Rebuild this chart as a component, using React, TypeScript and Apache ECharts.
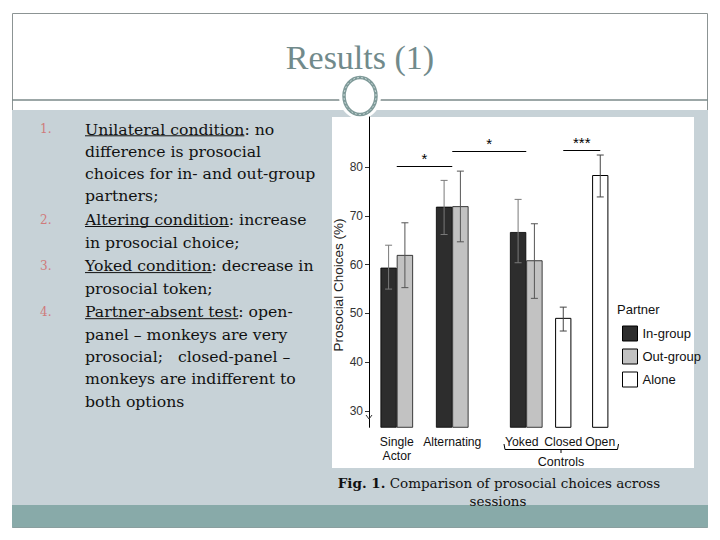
import React, { useEffect, useRef } from "react";
import * as echarts from "echarts";

// ---------- data ----------
const conditions = ["Single\nActor", "Alternating", "Yoked", "Closed", "Open"];
const inGroup = [59.4, 71.9, 66.7, null, null];
const inGroupErr = [[55.0, 64.0], [66.2, 77.3], [60.4, 73.4], null, null];
const outGroup = [62.0, 72.0, 60.9, null, null];
const outGroupErr = [[55.3, 68.6], [64.7, 79.2], [53.1, 68.4], null, null];
const alone = [null, null, null, 49.1, 78.4];
const aloneErr = [null, null, null, [46.4, 51.3], [73.9, 82.5]];
const yTicks = [30, 40, 50, 60, 70, 80];
const legendNames = ["In-group", "Out-group", "Alone"];
const significance = [
  { from: 0, to: 1, level: 80.3, label: "*" },
  { from: 1, to: 2, level: 83.3, label: "*" },
  { from: 3, to: 4, level: 83.5, label: "***" },
];

const slideTitle = "Results (1)";
const bullets = [
  { num: "1.", lead: "Unilateral condition", lines: ["Unilateral condition: no", "difference is prosocial", "choices for in- and out-group", "partners;"] },
  { num: "2.", lead: "Altering condition", lines: ["Altering condition: increase", "in prosocial choice;"] },
  { num: "3.", lead: "Yoked condition", lines: ["Yoked condition: decrease in", "prosocial token;"] },
  { num: "4.", lead: "Partner-absent test", lines: ["Partner-absent test: open-", "panel \u2013 monkeys are very", "prosocial;   closed-panel \u2013", "monkeys are indifferent to", "both options"] },
];
const captionBold = "Fig. 1.";
const captionRest = " Comparison of prosocial choices across";
const captionLine2 = "sessions";

// ---------- layout ----------
const slotOf = [1, 4, 8, 10, 12]; // category slot of each condition
const slotCount = 13;
const SANS = "'Liberation Sans', Arial, sans-serif";
const SERIF = "'DejaVu Serif', serif";
const LIST_SIZE = 15.7;

function toSlots(vals: (number | null)[]) {
  const arr: any[] = Array(slotCount).fill("-");
  vals.forEach((v, i) => {
    if (v != null) arr[slotOf[i]] = v;
  });
  return arr;
}

function errSeries(name: string, errs: (number[] | null)[], xAxisIndex: number, offset: number, color: string) {
  const data: number[][] = [];
  errs.forEach((e, i) => {
    if (e) data.push([slotOf[i], e[0], e[1]]);
  });
  return {
    type: "custom",
    name,
    xAxisIndex,
    yAxisIndex: 0,
    z: 6,
    silent: true,
    data,
    renderItem: (_p: any, api: any) => {
      const lo = api.coord([api.value(0), api.value(1)]);
      const hi = api.coord([api.value(0), api.value(2)]);
      const x = lo[0] + offset;
      const c = 3.5;
      const st = { stroke: color, lineWidth: 1 };
      return {
        type: "group",
        children: [
          { type: "line", shape: { x1: x, y1: hi[1], x2: x, y2: lo[1] }, style: st },
          { type: "line", shape: { x1: x - c, y1: hi[1], x2: x + c, y2: hi[1] }, style: st },
          { type: "line", shape: { x1: x - c, y1: lo[1], x2: x + c, y2: lo[1] }, style: st },
        ],
      };
    },
  };
}

function measure(text: string, font: string) {
  const cv = document.createElement("canvas");
  const ctx = cv.getContext("2d")!;
  ctx.font = font;
  return ctx.measureText(text).width;
}

export default function App() {
  const ref = useRef<HTMLDivElement>(null);
  useEffect(() => {
    document.body.style.margin = "0";
    const chart = echarts.init(ref.current!, null, { renderer: "svg" });
    const categories = Array(slotCount).fill("");
    conditions.forEach((c, i) => (categories[slotOf[i]] = c));

    const BAR_W = 16.3;

    // slide graphics
    const g: any[] = [];
    g.push({ type: "rect", z: -5, shape: { x: 12.5, y: 13.5, width: 695, height: 514 }, style: { fill: "#fff", stroke: "#8c9494", lineWidth: 1 } });
    g.push({ type: "rect", z: -4, shape: { x: 12, y: 110, width: 696, height: 396 }, style: { fill: "#c7d2d7" } });
    g.push({ type: "rect", z: -4, shape: { x: 12, y: 505, width: 696, height: 22.5 }, style: { fill: "#88aaa9" } });
    g.push({ type: "line", z: -4, shape: { x1: 12, y1: 100, x2: 708, y2: 100 }, style: { stroke: "#7b8a8a", lineWidth: 1.5 } });
    g.push({ type: "rect", z: -3, shape: { x: 332, y: 117, width: 362, height: 351 }, style: { fill: "#fff" } });
    // ornament
    g.push({ type: "ellipse", z: -2, shape: { cx: 360, cy: 96, rx: 21, ry: 23 }, style: { fill: "#fff" } });
    g.push({ type: "ellipse", z: -2, shape: { cx: 360, cy: 96, rx: 16, ry: 18.5 }, style: { fill: "#fff", stroke: "#7f9a99", lineWidth: 3.5 } });
    g.push({ type: "ellipse", z: -2, shape: { cx: 360, cy: 96, rx: 16, ry: 18.5 }, style: { fill: "none", stroke: "#c5d6d5", lineWidth: 1, lineDash: [2, 2] } });
    // title
    g.push({ type: "text", z: 10, x: 360, y: 57, style: { text: slideTitle, font: `34px 'Liberation Serif', serif`, fill: "#718a8b", align: "center", verticalAlign: "middle" } });

    // bullets
    const listFont = `${LIST_SIZE}px 'DejaVu Serif'`;
    let y = 129;
    const lineH = 22.3;
    bullets.forEach((b) => {
      g.push({ type: "text", z: 10, x: 40, y, style: { text: b.num, font: `12px ${SERIF}`, fill: "#cf7b7b", align: "left", verticalAlign: "middle" } });
      const w = measure(b.lead, listFont);
      g.push({ type: "line", z: 10, shape: { x1: 85, y1: y + 6.8, x2: 85 + w, y2: y + 6.8 }, style: { stroke: "#111", lineWidth: 1 } });
      b.lines.forEach((ln) => {
        g.push({ type: "text", z: 10, x: 85, y, style: { text: ln, font: `${LIST_SIZE}px ${SERIF}`, fill: "#111", align: "left", verticalAlign: "middle" } });
        y += lineH;
      });
      y += 1.5;
    });

    // caption
    g.push({
      type: "text", z: 10, x: 499, y: 483,
      style: {
        text: `{b|${captionBold}}${captionRest}`,
        font: `13.5px ${SERIF}`, fill: "#111", align: "center", verticalAlign: "middle",
        rich: { b: { fontWeight: "bold", fontFamily: "'DejaVu Serif', serif", fontSize: 13.5, fill: "#111" } },
      },
    });
    g.push({ type: "text", z: 10, x: 498, y: 501, style: { text: captionLine2, font: `13.5px ${SERIF}`, fill: "#111", align: "center", verticalAlign: "middle" } });

    // chart decorations
    g.push({ type: "text", z: 10, x: 338, y: 285, rotation: Math.PI / 2, style: { text: "Prosocial Choices (%)", font: `13.5px ${SANS}`, fill: "#222", align: "center", verticalAlign: "middle" } });
    g.push({ type: "text", z: 10, x: 617, y: 309, style: { text: "Partner", font: `13px ${SANS}`, fill: "#111", align: "left", verticalAlign: "middle" } });
    // Controls bracket
    const bs = { stroke: "#000", lineWidth: 1, fill: "none" };
    g.push({ type: "polyline", z: 10, shape: { points: [[504, 444], [505, 449.5], [617.5, 449.5], [618.5, 444]] }, style: bs });
    g.push({ type: "line", z: 10, shape: { x1: 561, y1: 449.5, x2: 561, y2: 453 }, style: bs });
    g.push({ type: "text", z: 10, x: 561, y: 462, style: { text: "Controls", font: `12.5px ${SANS}`, fill: "#111", align: "center", verticalAlign: "middle" } });
    // axis break mark
    g.push({ type: "polyline", z: 10, shape: { points: [[366, 415], [369, 419], [372, 415]] }, style: { stroke: "#333", lineWidth: 1, fill: "none" } });

    const option: any = {
      animation: false,
      backgroundColor: "#fff",
      textStyle: { fontFamily: SANS },
      grid: { left: 369, top: 117, width: 18.5 * slotCount, height: 310.3 },
      xAxis: [
        {
          type: "category",
          data: categories,
          axisLine: { show: false },
          axisTick: { show: false },
          axisLabel: {
            interval: 0, fontSize: 12.2, color: "#111", margin: 8, lineHeight: 14, fontFamily: SANS,
            formatter: (v: string) => (v === "Yoked" ? `{sh|${v}}` : v),
            rich: { sh: { fontSize: 12.2, color: "#111", fontFamily: SANS, padding: [0, 9, 0, 0] } },
          },
        },
        { type: "category", data: categories, show: false },
      ],
      yAxis: {
        type: "value",
        min: 26.65,
        max: 90.3,
        splitLine: { show: false },
        axisLine: { show: true, lineStyle: { color: "#000", width: 1 } },
        axisTick: { show: true, length: 4, customValues: yTicks, lineStyle: { color: "#333" } },
        axisLabel: { customValues: yTicks, fontSize: 12, color: "#333", margin: 6, fontFamily: SANS },
      },
      legend: {
        data: legendNames,
        orient: "vertical",
        left: 617,
        top: 320.5,
        itemWidth: 15,
        itemHeight: 15,
        itemGap: 7,
        icon: "rect",
        selectedMode: false,
        itemStyle: { borderColor: "#000", borderWidth: 1 },
        textStyle: { fontSize: 13, color: "#111", fontFamily: SANS },
      },
      series: [
        {
          type: "bar", name: legendNames[0], xAxisIndex: 0, data: toSlots(inGroup), barWidth: BAR_W, barGap: "0%",
          itemStyle: { color: "#2d2d2d", borderColor: "#000", borderWidth: 0.8 },
        },
        {
          type: "bar", name: legendNames[1], xAxisIndex: 0, data: toSlots(outGroup), barWidth: BAR_W, barGap: "0%",
          itemStyle: { color: "#c2c2c2", borderColor: "#111", borderWidth: 0.8 },
        },
        {
          type: "bar", name: legendNames[2], xAxisIndex: 1, data: toSlots(alone), barWidth: BAR_W,
          itemStyle: { color: "#fff", borderColor: "#000", borderWidth: 1 },
          markLine: {
            silent: true,
            symbol: ["none", "none"],
            lineStyle: { color: "#000", width: 1, type: "solid" },
            data: significance.map((s) => [
              { coord: [slotOf[s.from], s.level], label: { show: true, formatter: s.label, position: "middle", fontSize: 15, color: "#000", distance: 0 } },
              { coord: [slotOf[s.to], s.level] },
            ]),
          },
        },
        errSeries("In-group err", inGroupErr, 0, -BAR_W / 2, "#7a7a7a"),
        errSeries("Out-group err", outGroupErr, 0, BAR_W / 2, "#555"),
        errSeries("Alone err", aloneErr, 1, 0, "#444"),
      ],
      graphic: { elements: g },
    };
    chart.setOption(option);
    return () => chart.dispose();
  }, []);
  return <div ref={ref} style={{ width: 720, height: 540 }} />;
}
